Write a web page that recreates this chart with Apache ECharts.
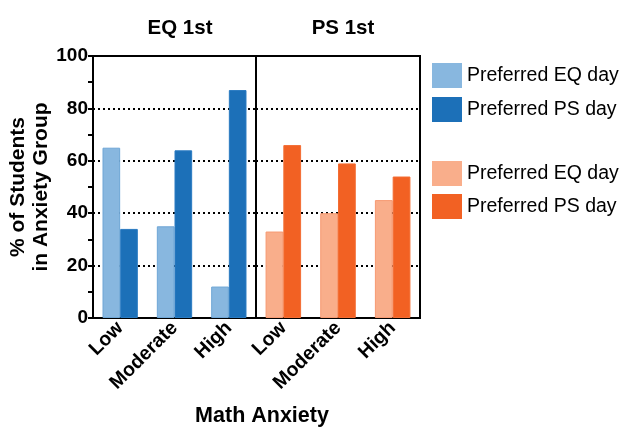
<!DOCTYPE html>
<html><head><meta charset="utf-8">
<script src="https://cdn.jsdelivr.net/npm/echarts@6/dist/echarts.min.js"></script>
<style>html,body{margin:0;padding:0;background:#fff}#c{width:633px;height:427px}</style>
</head><body><div id="c"></div>
<script>
const categories = ['Low', 'Moderate', 'High'];
const eqFirstPrefEQ = [65, 35, 12];
const eqFirstPrefPS = [34, 64, 87];
const psFirstPrefEQ = [33, 40, 45];
const psFirstPrefPS = [66, 59, 54];
const yTicks = [0, 20, 40, 60, 80, 100];
const panelTitles = ['EQ 1st', 'PS 1st'];
const seriesNames = ['Preferred EQ day', 'Preferred PS day'];

const FONT = 'Liberation Sans, Arial, sans-serif';
const lightBlue = '#88b7df', darkBlue = '#1c70b8', lightOrange = '#f9ae8b', darkOrange = '#f26123';
const chart = echarts.init(document.getElementById('c'));
const xAxisBase = (gi) => ({
  type: 'category', gridIndex: gi, data: categories,
  axisLine: {show: true, lineStyle: {color: '#000', width: 2}},
  axisTick: {show: false},
  axisLabel: {rotate: 45, color: '#000', fontWeight: 'bold', fontSize: 19.5, fontFamily: FONT, margin: 7, interval: 0}
});
const dotted = {show: true, lineStyle: {color: '#000', width: 2, type: [2, 3]}};
const zw = '\u200b';
const titleStyle = {fontSize: 20.5, fontWeight: 'bold', color: '#000', fontFamily: FONT};
const legendText = {fontSize: 19.5, color: '#000', fontFamily: FONT, padding: [0, 0, 0, 0]};
chart.setOption({
  animation: false,
  textStyle: {fontFamily: FONT},
  title: [
    {text: panelTitles[0], left: 175, top: 13, textAlign: 'center', textStyle: titleStyle},
    {text: panelTitles[1], left: 338, top: 13, textAlign: 'center', textStyle: titleStyle},
    {text: 'Math Anxiety', left: 257, top: 400, textAlign: 'center', textStyle: Object.assign({}, titleStyle, {fontSize: 21.5})}
  ],
  grid: [
    {left: 93, top: 56, width: 163, height: 262, show: true, borderColor: '#000', borderWidth: 2, containLabel: false},
    {left: 256, top: 56, width: 164, height: 262, show: true, borderColor: '#000', borderWidth: 2, containLabel: false}
  ],
  legend: [
    {orient: 'vertical', left: 432, top: 63, padding: 0, itemWidth: 30, itemHeight: 25, itemGap: 9,
     data: [seriesNames[0], seriesNames[1]], itemStyle: {borderWidth: 0},
     textStyle: legendText, icon: 'rect'},
    {orient: 'vertical', left: 432, top: 161, padding: 0, itemWidth: 30, itemHeight: 25, itemGap: 8,
     data: [seriesNames[0] + zw, seriesNames[1] + zw], itemStyle: {borderWidth: 0},
     textStyle: legendText, icon: 'rect'}
  ],
  xAxis: [xAxisBase(0), xAxisBase(1)],
  yAxis: [
    {type: 'value', gridIndex: 0, min: yTicks[0], max: yTicks[yTicks.length - 1], interval: 20,
     name: '% of Students\nin Anxiety Group', nameLocation: 'middle', nameGap: 37,
     nameTextStyle: {fontSize: 21, fontWeight: 'bold', color: '#000', fontFamily: FONT, lineHeight: 23},
     axisLine: {show: true, lineStyle: {color: '#000', width: 2}},
     axisTick: {show: true, length: 5, lineStyle: {color: '#000', width: 2}},
     minorTick: {show: true, splitNumber: 2, length: 5, lineStyle: {color: '#000', width: 2}},
     axisLabel: {color: '#000', fontWeight: 'bold', fontSize: 19, fontFamily: FONT, margin: 5},
     splitLine: dotted},
    {type: 'value', gridIndex: 1, min: 0, max: 100, interval: 20,
     axisLine: {show: false}, axisTick: {show: false}, axisLabel: {show: false},
     splitLine: dotted}
  ],
  series: [
    {name: seriesNames[0], type: 'bar', xAxisIndex: 0, yAxisIndex: 0, data: eqFirstPrefEQ, barGap: '0%', barCategoryGap: '35%',
     itemStyle: {color: lightBlue, borderColor: '#6ea6d6', borderWidth: 1}},
    {name: seriesNames[1], type: 'bar', xAxisIndex: 0, yAxisIndex: 0, data: eqFirstPrefPS, barGap: '0%', barCategoryGap: '35%',
     itemStyle: {color: darkBlue, borderColor: '#2a7bc2', borderWidth: 1}},
    {name: seriesNames[0] + zw, type: 'bar', xAxisIndex: 1, yAxisIndex: 1, data: psFirstPrefEQ, barGap: '0%', barCategoryGap: '35%',
     itemStyle: {color: lightOrange, borderColor: '#f79a72', borderWidth: 1}},
    {name: seriesNames[1] + zw, type: 'bar', xAxisIndex: 1, yAxisIndex: 1, data: psFirstPrefPS, barGap: '0%', barCategoryGap: '35%',
     itemStyle: {color: darkOrange, borderColor: '#f36d33', borderWidth: 1}}
  ]
});
</script></body></html>
